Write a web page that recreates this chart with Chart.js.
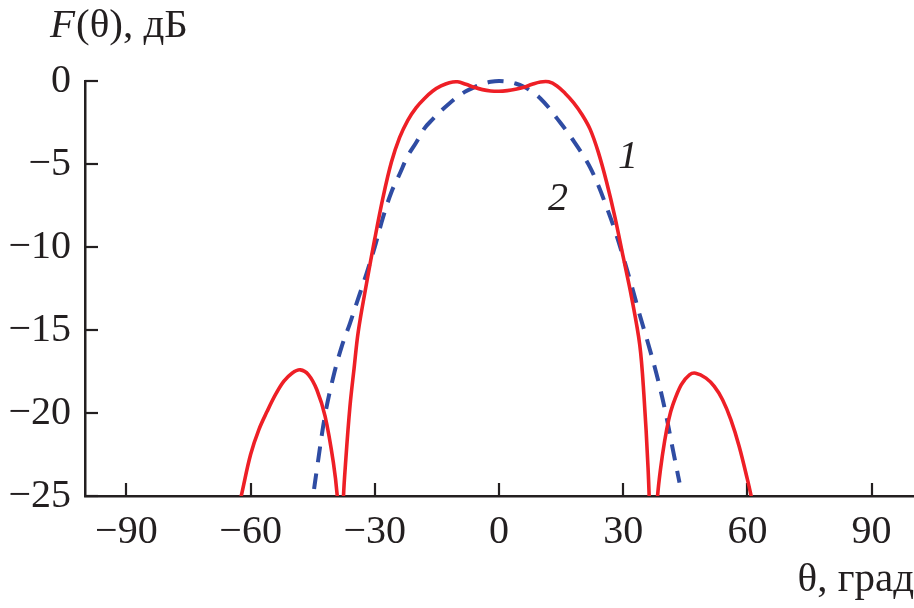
<!DOCTYPE html>
<html>
<head>
<meta charset="utf-8">
<script src="https://cdn.jsdelivr.net/npm/chart.js@4.4.1/dist/chart.umd.min.js"></script>
<style>
  html, body { margin: 0; padding: 0; background: #ffffff; }
  #wrap { width: 914px; height: 608px; position: relative; }
</style>
</head>
<body>
<div id="wrap"><canvas id="c"></canvas></div>
<script>
// Curve 1 (solid red): angle (deg) and level (dB)
const theta1 = [-64, -62, -60, -58, -56, -54, -52, -50, -48, -46, -44, -42, -40, -39, -38.6, -38.1, -37.6, -37, -36, -35, -34, -32, -30, -28, -26, -24, -22, -20, -18, -16, -14, -12, -10, -8, -6, -4, -2, 0, 2, 4, 6, 8, 10, 12, 14, 16, 18, 20, 22, 24, 26, 28, 30, 32, 34, 35, 36, 36.6, 37.2, 37.8, 38.3, 39, 40, 41, 42, 44, 46, 47.5, 50, 52, 54, 56, 58, 60, 61, 63];
const level1 = [-27.0, -24.7, -22.5, -21.0, -19.9, -18.9, -18.1, -17.6, -17.4, -17.7, -18.6, -20.2, -23.0, -25.2, -27.5, -33, -25.3, -22.8, -19.6, -17.3, -15.1, -12.2, -9.5, -7.0, -4.9, -3.4, -2.35, -1.6, -1.05, -0.6, -0.3, -0.1, -0.05, -0.2, -0.38, -0.52, -0.6, -0.62, -0.58, -0.5, -0.38, -0.2, -0.06, -0.05, -0.3, -0.75, -1.3, -2.0, -2.9, -4.3, -6.1, -8.2, -10.6, -13.0, -15.9, -18.9, -23.3, -27.5, -33, -27.0, -25.0, -23.4, -21.7, -20.4, -19.5, -18.3, -17.7, -17.6, -17.9, -18.4, -19.2, -20.4, -22.0, -24.0, -25.1, -27.4];

// Curve 2 (dashed blue)
const theta2 = [-45.5, -45, -44, -42, -40, -38, -36, -34, -32, -30, -28, -26, -24, -22, -20, -18, -16, -14, -12, -10, -8, -6, -4, -2, 0, 2, 4, 6, 8, 10, 12, 14, 16, 18, 20, 22, 24, 26, 28, 30, 32, 34, 36, 38, 40, 42, 43.6];
const level2 = [-26.2, -25.2, -23.4, -20.1, -17.8, -16.0, -14.6, -13.1, -11.6, -10.0, -8.2, -6.7, -5.6, -4.5, -3.7, -2.85, -2.3, -1.8, -1.35, -0.95, -0.62, -0.38, -0.18, -0.05, 0, -0.04, -0.15, -0.35, -0.65, -1.05, -1.6, -2.25, -2.9, -3.6, -4.35, -5.2, -6.3, -7.6, -9.0, -10.6, -12.3, -14.1, -15.8, -17.6, -19.7, -22.2, -24.2];

// Axis ticks and labels
const xTickValues = [-90, -60, -30, 0, 30, 60, 90];
const yTickValues = [-25, -20, -15, -10, -5, 0];
const yTitle = ["F", "(θ), дБ"];
const xTitle = "θ, град";
const curveLabels = ["1", "2"];

const AXIS = '#231f20';
const FONT = '"Liberation Serif", "Times New Roman", serif';

function pts(xs, ys) { return xs.map((x, i) => ({ x: x, y: ys[i] })); }
function fmt(v) { return String(v).replace('-', '\u2212'); }

const decor = {
  id: 'decor',
  beforeDatasetsDraw(chart) {
    const ctx = chart.ctx, xs = chart.scales.x, ys = chart.scales.y, a = chart.chartArea;
    ctx.save();
    ctx.strokeStyle = AXIS;
    ctx.lineWidth = 2.2;
    xs.ticks.forEach(t => {
      const px = Math.round(xs.getPixelForValue(t.value));
      ctx.beginPath(); ctx.moveTo(px, a.bottom); ctx.lineTo(px, a.bottom - 13); ctx.stroke();
    });
    ys.ticks.forEach(t => {
      const py = Math.round(ys.getPixelForValue(t.value));
      ctx.beginPath(); ctx.moveTo(a.left, py); ctx.lineTo(a.left + 13, py); ctx.stroke();
    });
    ctx.restore();
  },
  afterDraw(chart) {
    const ctx = chart.ctx;
    ctx.save();
    ctx.fillStyle = AXIS;
    ctx.textBaseline = 'alphabetic';
    ctx.textAlign = 'left';
    // y title
    ctx.font = 'italic 41px ' + FONT;
    ctx.fillText(yTitle[0], 50, 37);
    const w = ctx.measureText(yTitle[0]).width;
    ctx.font = '41px ' + FONT;
    ctx.fillText(yTitle[1], 50 + w + 1, 37);
    // x title
    ctx.textAlign = 'right';
    ctx.fillText(xTitle, 914, 591);
    // curve labels
    ctx.textAlign = 'left';
    ctx.font = 'italic 40px ' + FONT;
    ctx.fillText(curveLabels[0], 618, 168);
    ctx.fillText(curveLabels[1], 548, 210);
    ctx.restore();
  }
};

new Chart(document.getElementById('c'), {
  type: 'line',
  data: {
    datasets: [
      {
        data: pts(theta1, level1),
        borderColor: '#ee1f26',
        borderWidth: 3.6,
        pointRadius: 0,
        fill: false,
        tension: 0.35,
        clip: { left: 0, right: 0, top: 6, bottom: 0 }
      },
      {
        data: pts(theta2, level2),
        borderColor: '#2f4ca3',
        borderWidth: 4,
        borderDash: [16, 11],
        pointRadius: 0,
        fill: false,
        tension: 0.35,
        clip: { left: 0, right: 0, top: 6, bottom: 0 }
      }
    ]
  },
  options: {
    responsive: true,
    maintainAspectRatio: false,
    animation: false,
    events: [],
    elements: { line: { capBezierPoints: false } },
    layout: { padding: { top: 81, right: 1, left: 0, bottom: 0 } },
    plugins: { legend: { display: false }, tooltip: { enabled: false }, title: { display: false } },
    scales: {
      x: {
        type: 'linear',
        min: -100, max: 100,
        afterBuildTicks: s => { s.ticks = xTickValues.map(v => ({ value: v })); },
        afterFit: s => { s.height = 112; },
        grid: { display: true, drawOnChartArea: false, drawTicks: false },
        border: { display: true, color: AXIS, width: 2.5 },
        ticks: {
          color: AXIS, padding: 12, maxRotation: 0, autoSkip: false,
          font: { family: FONT, size: 40 },
          callback: v => fmt(v)
        }
      },
      y: {
        type: 'linear',
        min: -25, max: 0,
        afterBuildTicks: s => { s.ticks = yTickValues.map(v => ({ value: v })); },
        afterFit: s => { s.width = 85; },
        grid: { display: true, drawOnChartArea: false, drawTicks: false },
        border: { display: true, color: AXIS, width: 2.5 },
        ticks: {
          color: AXIS, padding: 14, autoSkip: false,
          font: { family: FONT, size: 40 },
          callback: v => fmt(v)
        }
      }
    }
  },
  plugins: [decor]
});
</script>
</body>
</html>
